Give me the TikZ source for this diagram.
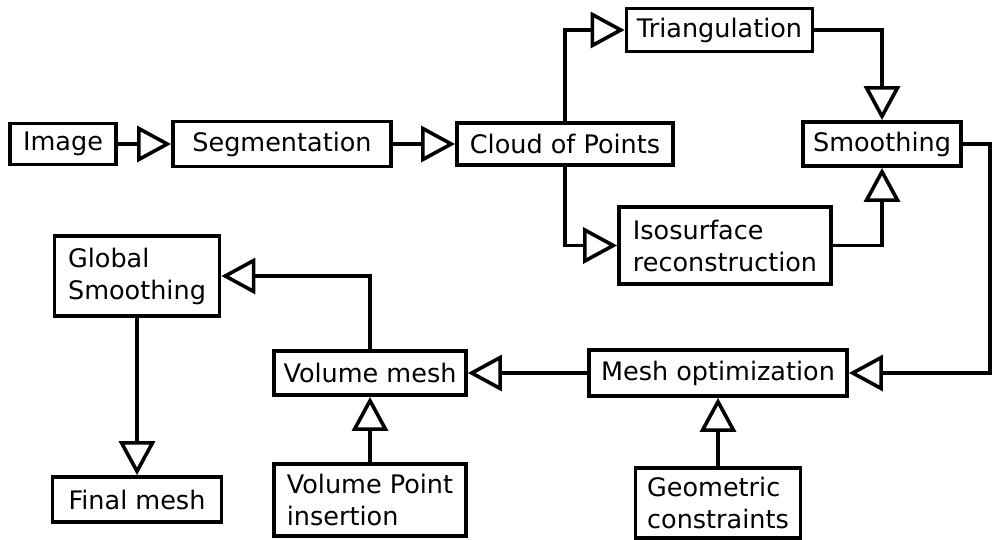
\documentclass[tikz,border=0pt]{standalone}
\usepackage{fontspec}
\setmainfont{DejaVu Sans}
\usetikzlibrary{arrows.meta}
\begin{document}
\begin{tikzpicture}[x=1pt,y=-1pt,
  box/.style={draw, line width=3.8pt, inner sep=0pt, align=left,
    font=\fontsize{25.5}{32}\selectfont},
  arr/.style={line width=3.6pt, line join=miter, -{Triangle[open, length=34pt, width=36pt, line width=3.6pt]}}]
\useasboundingbox (0,0) rectangle (992,540);
\node[box, minimum width=106pt, minimum height=41pt] (img) at (63,144) {Image};
\node[box, minimum width=218pt, minimum height=45pt] (seg) at (282,144) {Segmentation};
\node[box, minimum width=216pt, minimum height=42pt] (cloud) at (565,144) {Cloud of Points};
\node[box, minimum width=186pt, minimum height=43pt] (tri) at (719.5,30) {Triangulation};
\node[box, minimum width=158pt, minimum height=44pt] (smooth) at (882,144) {Smoothing};
\node[box, minimum width=212pt, minimum height=77pt] (iso) at (725,245.5) {Isosurface\\reconstruction};
\node[box, minimum width=165pt, minimum height=80pt] (glob) at (137,276) {Global\\Smoothing};
\node[box, minimum width=192pt, minimum height=44pt] (vol) at (370,373) {Volume mesh};
\node[box, minimum width=258pt, minimum height=46pt] (opt) at (718,373) {Mesh optimization};
\node[box, minimum width=169pt, minimum height=45pt] (final) at (137,499.5) {Final mesh};
\node[box, minimum width=192pt, minimum height=72pt] (vpi) at (370,500) {Volume Point\\insertion};
\node[box, minimum width=165pt, minimum height=70pt] (geo) at (718,503) {Geometric\\constraints};
\coordinate (turn) at (990,0);
\draw[arr] (img) -- (seg);
\draw[arr] (seg) -- (cloud);
\draw[arr] (cloud.north) |- (tri.west);
\draw[arr] (cloud.south) |- (iso.west);
\draw[arr] (tri.east) -| (smooth.north);
\draw[arr] (iso.east) -| (smooth.south);
\draw[arr] (smooth.east) -- (smooth.east -| turn) |- (opt.east);
\draw[arr] (opt) -- (vol);
\draw[arr] (vol.north) |- (glob.east);
\draw[arr] (glob) -- (final);
\draw[arr] (vpi) -- (vol);
\draw[arr] (geo) -- (opt);
\end{tikzpicture}
\end{document}
